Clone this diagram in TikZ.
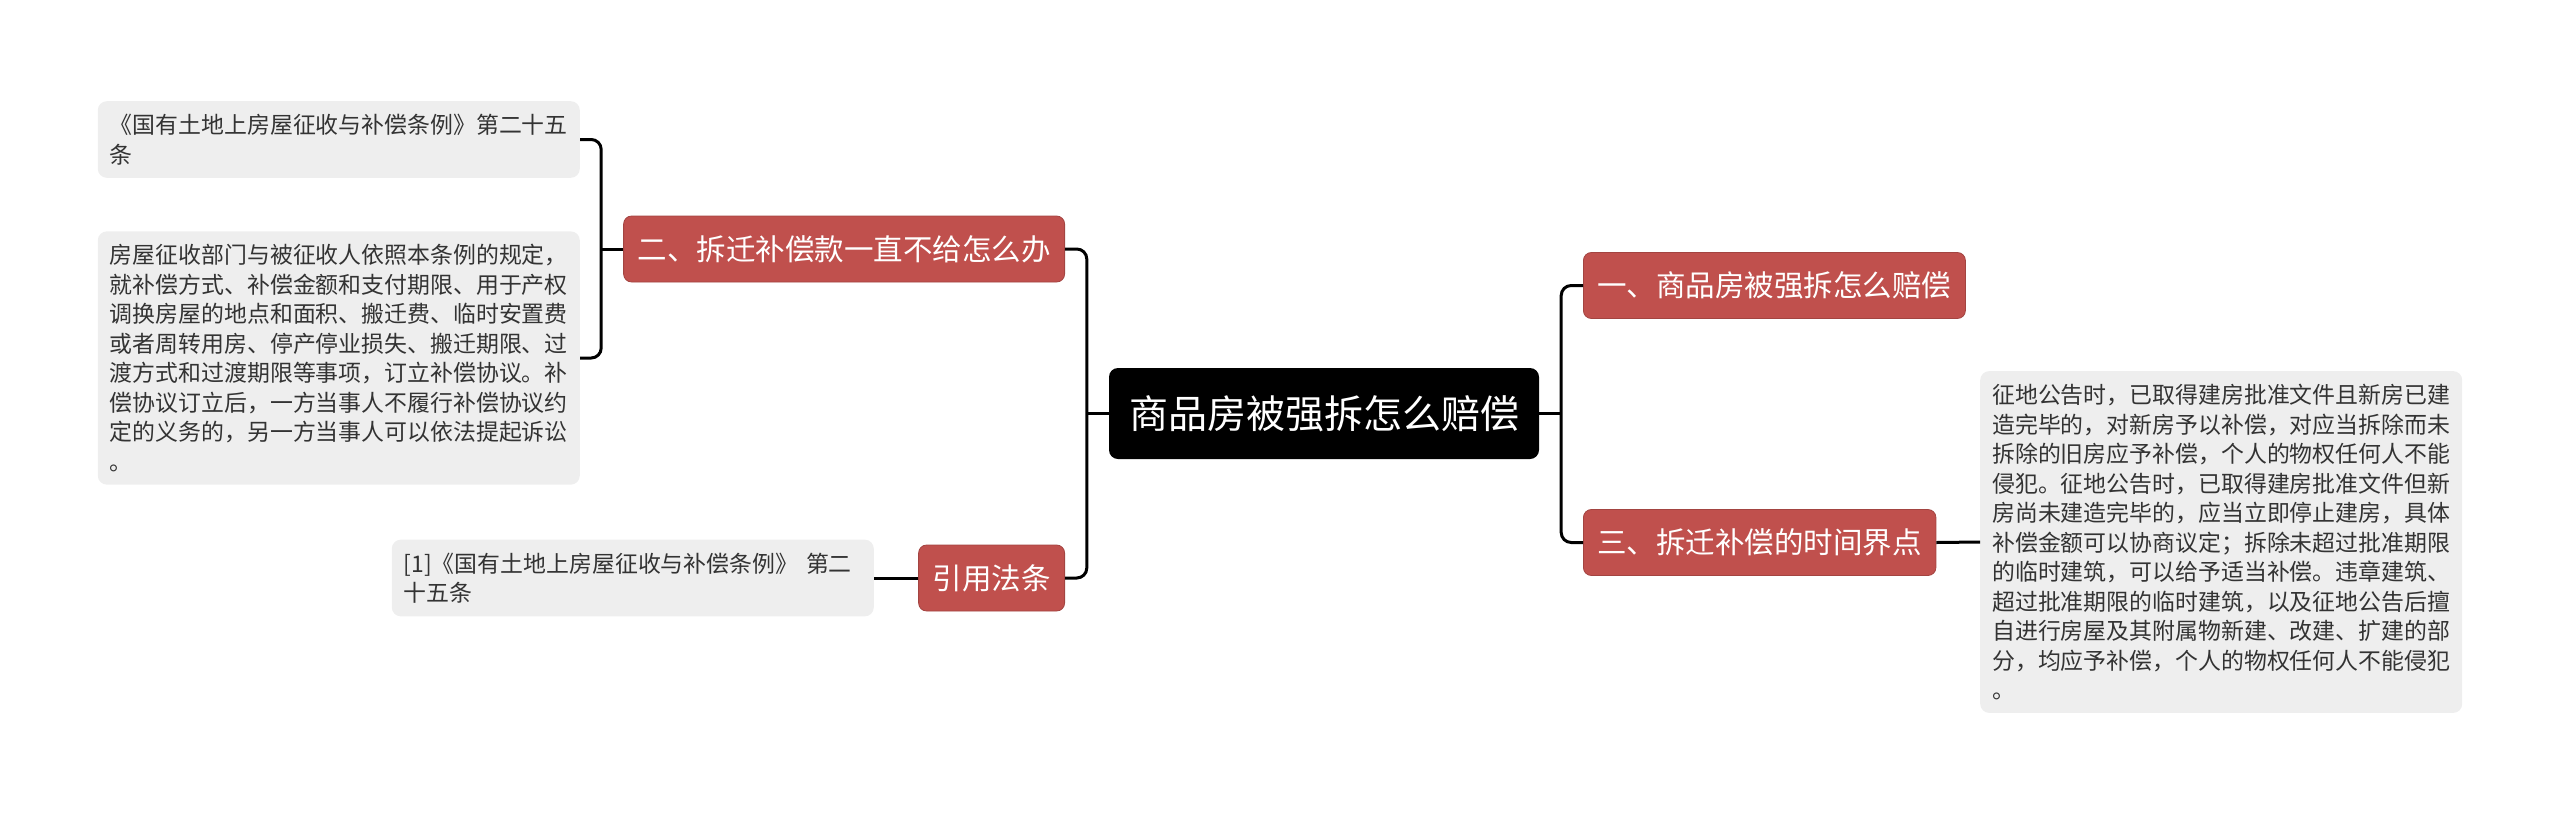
\documentclass[tikz,border=0pt]{standalone}
\usepackage{fontspec}
\setmainfont{Noto Sans CJK SC}
\usetikzlibrary{positioning, calc}

\definecolor{topicred}{HTML}{C0504D}
\definecolor{leafgray}{HTML}{EEEEEE}
\definecolor{leaftext}{HTML}{333333}

\begin{document}
\begin{tikzpicture}[
    x=1pt, y=-1pt,
    root/.style={fill=black, rounded corners=9pt, text=white, inner xsep=20pt,
      minimum height=91pt, font=\fontsize{39}{44}\selectfont},
    topic/.style={fill=topicred, draw=topicred!85!black, line width=0.8pt,
      rounded corners=8pt, text=white, inner xsep=14pt, minimum height=66pt,
      font=\fontsize{29.5}{34}\selectfont},
    leaf/.style={fill=leafgray, rounded corners=9pt, text=leaftext,
      text width=458pt, align=left, inner xsep=12pt, inner ysep=13pt,
      font=\fontsize{22.9}{29.5}\selectfont},
    link/.style={line width=3pt, rounded corners=10pt},
  ]
  \useasboundingbox (0,0) rectangle (2560,815);
  % centre
  \node[root] (root) at (1324,413.5) {商品房被强拆怎么赔偿};
  % right side
  \node[topic, anchor=west] (compensate) at (1583,285.5) {一、商品房被强拆怎么赔偿};
  \node[topic, anchor=west] (timing) at (1583,542.5) {三、拆迁补偿的时间界点};
  \node[leaf, anchor=west] (timingtext) at (1980,542) {征地公告时，已取得建房批准文件且新房已建\\造完毕的，对新房予以补偿，对应当拆除而未\\拆除的旧房应予补偿，个人的物权任何人不能\\侵犯。征地公告时，已取得建房批准文件但新\\房尚未建造完毕的，应当立即停止建房，具体\\补偿金额可以协商议定；拆除未超过批准期限\\的临时建筑，可以给予适当补偿。违章建筑、\\超过批准期限的临时建筑，以及征地公告后擅\\自进行房屋及其附属物新建、改建、扩建的部\\分，均应予补偿，个人的物权任何人不能侵犯\\。};
  % left side
  \node[topic, anchor=east] (unpaid) at (1065,249) {二、拆迁补偿款一直不给怎么办};
  \node[topic, anchor=east] (law) at (1065,578) {引用法条};
  \node[leaf, anchor=east] (article) at (580,139.5) {《国有土地上房屋征收与补偿条例》第二十五\\条};
  \node[leaf, anchor=east] (articletext) at (580,358) {房屋征收部门与被征收人依照本条例的规定，\\就补偿方式、补偿金额和支付期限、用于产权\\调换房屋的地点和面积、搬迁费、临时安置费\\或者周转用房、停产停业损失、搬迁期限、过\\渡方式和过渡期限等事项，订立补偿协议。补\\偿协议订立后，一方当事人不履行补偿协议约\\定的义务的，另一方当事人可以依法提起诉讼\\。};
  \node[leaf, anchor=east] (lawref) at (874,578) {[1]《国有土地上房屋征收与补偿条例》 第二\\十五条};
  % connectors
  \coordinate (rj) at ([xshift=22pt]root.east);
  \coordinate (lj) at ([xshift=-22pt]root.west);
  \coordinate (uj) at ([xshift=-22pt]unpaid.west);
  \draw[link] (root.east) -- (rj);
  \draw[link] (compensate.west) -| (rj) |- (timing.west);
  \draw[link] (root.west) -- (lj);
  \draw[link] (unpaid.east) -| (lj) |- (law.east);
  \draw[link] (unpaid.west) -- (uj);
  \draw[link] (article.east) -| (uj) |- (articletext.east);
  \draw[link] (timing.east) -- (timingtext.west);
  \draw[link] (law.west) -- (lawref.east);
\end{tikzpicture}
\end{document}
